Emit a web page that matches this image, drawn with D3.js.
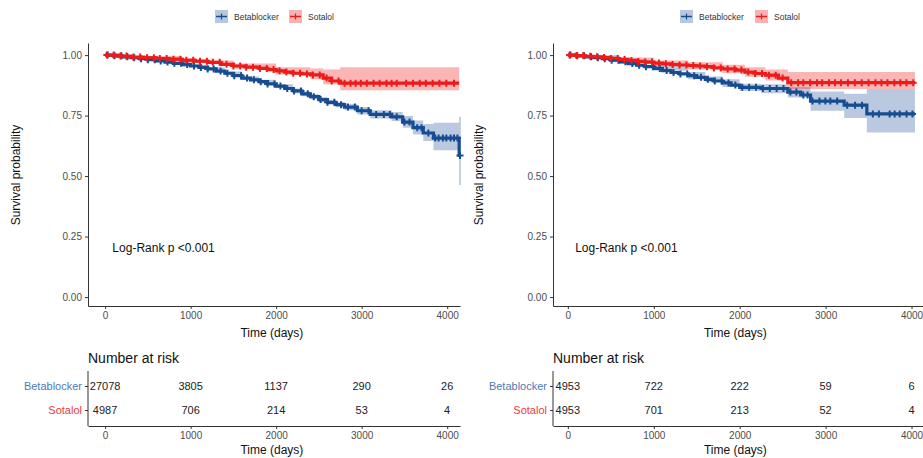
<!DOCTYPE html>
<html>
<head>
<meta charset="utf-8">
<script src="https://cdn.jsdelivr.net/npm/d3@7"></script>
<style>
  body { margin: 0; background: #fff; }
  text { font-family: Arial, "Liberation Sans", sans-serif; }
</style>
</head>
<body>
<svg id="chart" width="923" height="458"></svg>
<script>
const groups = ["Betablocker", "Sotalol"];
const xTicks = [0, 1000, 2000, 3000, 4000];
const yTicks = [0, 0.25, 0.5, 0.75, 1];
const pText = "Log-Rank p <0.001";

// left panel: [time, survival]
const leftBetaSurv = [[0,1],[100,0.997],[200,0.993],[300,0.989],[400,0.985],[500,0.981],[600,0.976],[700,0.971],[800,0.966],[900,0.961],[1000,0.955],[1100,0.949],[1200,0.943],[1300,0.934],[1400,0.925],[1500,0.915],[1600,0.905],[1700,0.898],[1800,0.89],[1900,0.881],[2000,0.872],[2100,0.862],[2200,0.852],[2300,0.84],[2400,0.828],[2500,0.816],[2600,0.805],[2700,0.795],[2800,0.785],[2950,0.77],[3100,0.755],[3350,0.745],[3480,0.723],[3600,0.7],[3720,0.678],[3840,0.657],[4140,0.585],[4160,0.585]];
const leftSotaSurv = [[0,1],[150,0.996],[300,0.992],[450,0.989],[600,0.986],[750,0.983],[900,0.979],[1050,0.975],[1200,0.97],[1350,0.962],[1500,0.955],[1650,0.95],[1800,0.945],[1900,0.94],[2000,0.935],[2100,0.93],[2200,0.925],[2300,0.922],[2400,0.918],[2550,0.905],[2650,0.893],[2750,0.884],[4140,0.884]];
// [time, lower, upper]
const leftBetaCI = [[0,1,1],[200,0.99,0.996],[600,0.972,0.98],[1000,0.95,0.96],[1200,0.937,0.949],[1400,0.918,0.932],[1600,0.898,0.912],[1800,0.882,0.898],[2000,0.864,0.88],[2200,0.842,0.862],[2300,0.83,0.85],[2400,0.818,0.838],[2500,0.806,0.826],[2600,0.795,0.815],[2700,0.784,0.806],[2800,0.772,0.798],[2950,0.755,0.785],[3100,0.738,0.772],[3350,0.728,0.765],[3480,0.7,0.748],[3600,0.672,0.73],[3720,0.645,0.715],[3840,0.607,0.72],[4140,0.463,0.745],[4160,0.463,0.745]];
const leftSotaCI = [[0,1,1],[300,0.988,0.996],[900,0.966,0.978],[1500,0.945,0.965],[2000,0.92,0.95],[2400,0.9,0.945],[2550,0.88,0.94],[2750,0.855,0.95],[4140,0.855,0.95]];
const leftBetaCens = [30,110,190,260,340,420,500,580,650,730,810,890,960,1040,1120,1200,1270,1350,1430,1510,1590,1660,1740,1820,1900,1980,2050,2130,2210,2290,2370,2440,2520,2600,2680,2760,2840,2920,3000,3080,3170,3260,3330,3410,3500,3560,3650,3700,3780,3860,3900,3950,3990,4040,4080,4120,4150];
const leftSotaCens = [20,100,180,250,330,410,490,570,640,720,800,880,950,1030,1110,1190,1260,1340,1420,1500,1580,1650,1730,1810,1890,1970,2040,2120,2200,2280,2360,2430,2510,2590,2650,2730,2800,2870,2930,2990,3060,3140,3210,3290,3350,3410,3520,3600,3680,3750,3830,3910,3990,4080];
const leftRiskBeta = [27078, 3805, 1137, 290, 26];
const leftRiskSota = [4987, 706, 214, 53, 4];

// right panel
const rightBetaSurv = [[0,1],[100,0.997],[200,0.993],[300,0.989],[400,0.985],[500,0.979],[600,0.972],[700,0.965],[800,0.958],[900,0.952],[1000,0.945],[1100,0.936],[1200,0.928],[1300,0.922],[1400,0.915],[1500,0.908],[1600,0.9],[1700,0.893],[1800,0.885],[1900,0.876],[2000,0.867],[2250,0.862],[2560,0.847],[2710,0.835],[2825,0.81],[3216,0.793],[3480,0.757],[4040,0.757]];
const rightSotaSurv = [[0,1],[100,0.998],[200,0.995],[300,0.993],[400,0.99],[500,0.986],[600,0.982],[700,0.978],[800,0.974],[900,0.971],[1000,0.967],[1100,0.964],[1200,0.961],[1300,0.959],[1400,0.957],[1500,0.955],[1600,0.952],[1700,0.947],[1800,0.943],[1950,0.938],[2060,0.93],[2180,0.924],[2300,0.917],[2450,0.905],[2560,0.886],[4040,0.886]];
const rightBetaCI = [[0,1,1],[200,0.988,0.997],[600,0.965,0.98],[1000,0.935,0.955],[1400,0.9,0.93],[1600,0.888,0.912],[1800,0.868,0.9],[2000,0.852,0.882],[2250,0.842,0.88],[2560,0.825,0.868],[2825,0.77,0.85],[3216,0.74,0.84],[3480,0.68,0.86],[4040,0.68,0.86]];
const rightSotaCI = [[0,1,1],[200,0.99,0.999],[600,0.974,0.99],[1000,0.955,0.978],[1400,0.942,0.97],[1800,0.925,0.96],[2060,0.91,0.95],[2300,0.895,0.94],[2560,0.86,0.93],[4040,0.86,0.93]];
const rightBetaCens = [30,110,190,270,350,430,510,590,670,750,830,910,990,1070,1150,1230,1310,1390,1470,1550,1630,1710,1790,1870,1950,2030,2110,2190,2270,2350,2430,2510,2590,2660,2740,2790,2847,2928,2997,3055,3135,3251,3343,3424,3550,3620,3746,3804,3862,3942,4011];
const rightSotaCens = [20,100,180,260,340,420,500,580,660,740,820,900,980,1060,1140,1220,1300,1380,1460,1540,1620,1700,1780,1860,1940,2020,2100,2180,2260,2340,2420,2500,2600,2680,2740,2820,2900,2960,3040,3110,3180,3260,3340,3420,3500,3580,3650,3720,3800,3870,3940,4020];
const rightRiskBeta = [4953, 722, 222, 59, 6];
const rightRiskSota = [4953, 701, 213, 52, 4];

const lineCol = { Betablocker: "#164c91", Sotalol: "#ee1b1b" };
const bandCol = { Betablocker: "#4a72aa", Sotalol: "#f23c3c" };
const labelCol = { Betablocker: "#4f78b5", Sotalol: "#ea3b3f" };

const svg = d3.select("#chart");

function survAt(steps, t) {
  let v = steps[0][1];
  steps.forEach(s => { if (s[0] <= t) v = s[1]; });
  return v;
}

function styleAxis(g) {
  g.selectAll(".domain").attr("stroke", "#333").attr("stroke-width", 1);
  g.selectAll(".tick line").attr("stroke", "#333");
  g.selectAll(".tick text").attr("fill", "#4d4d4d").attr("font-size", 10)
    .attr("font-family", "Arial, 'Liberation Sans', sans-serif");
}

function drawPanel(p) {
  const g = svg.append("g");
  const x = d3.scaleLinear().domain(p.xDomain).range(p.xRange);
  const y = d3.scaleLinear().domain([-0.037, 1.05]).range([306, 43]);

  // legend
  const leg = g.append("g").attr("transform", `translate(${p.legendX},10)`);
  groups.forEach((name, i) => {
    const lg = leg.append("g").attr("transform", `translate(${i * p.legendStep},0)`);
    lg.append("rect").attr("width", 13).attr("height", 13)
      .attr("fill", bandCol[name]).attr("fill-opacity", 0.4);
    lg.append("line").attr("x1", 1).attr("x2", 12).attr("y1", 6.5).attr("y2", 6.5)
      .attr("stroke", lineCol[name]).attr("stroke-width", 1.5);
    lg.append("line").attr("x1", 6.5).attr("x2", 6.5).attr("y1", 3.5).attr("y2", 9.5)
      .attr("stroke", lineCol[name]).attr("stroke-width", 1.2);
    lg.append("text").attr("x", 19).attr("y", 9.5).attr("font-size", 8.5)
      .attr("fill", "#333").text(name);
  });

  // confidence bands
  const area = d3.area().curve(d3.curveStepAfter)
    .x(d => x(d[0])).y0(d => y(d[1])).y1(d => y(d[2]));
  const line = d3.line().curve(d3.curveStepAfter)
    .x(d => x(d[0])).y(d => y(d[1]));

  const series = [
    { name: "Betablocker", surv: p.betaSurv, ci: p.betaCI, cens: p.betaCens },
    { name: "Sotalol", surv: p.sotaSurv, ci: p.sotaCI, cens: p.sotaCens }
  ];
  series.forEach(s => {
    g.append("path").datum(s.ci).attr("d", area)
      .attr("fill", bandCol[s.name]).attr("fill-opacity", 0.38);
  });
  series.forEach(s => {
    g.append("path").datum(s.surv).attr("d", line)
      .attr("fill", "none").attr("stroke", lineCol[s.name]).attr("stroke-width", 3.2);
    const c = g.append("g");
    s.cens.forEach(t => {
      const cx = x(t), cy = y(survAt(s.surv, t));
      c.append("path").attr("d", `M${cx - 3.5},${cy}H${cx + 3.5}M${cx},${cy - 3.5}V${cy + 3.5}`)
        .attr("stroke", lineCol[s.name]).attr("stroke-width", 2);
    });
  });

  // axes
  g.append("g").attr("transform", `translate(${p.xRange[0]},0)`)
    .call(d3.axisLeft(y).tickValues(yTicks).tickFormat(d3.format(".2f")).tickSize(3).tickSizeOuter(0).tickPadding(3))
    .call(styleAxis);
  g.append("g").attr("transform", "translate(0,306)")
    .call(d3.axisBottom(x).tickValues(xTicks).tickFormat(d3.format("d")).tickSize(3).tickSizeOuter(0).tickPadding(3))
    .call(styleAxis);

  g.append("text").attr("transform", `translate(${p.yTitleX},175) rotate(-90)`)
    .attr("text-anchor", "middle").attr("font-size", 12).attr("fill", "#111")
    .text("Survival probability");
  g.append("text").attr("x", x(1950)).attr("y", 337)
    .attr("text-anchor", "middle").attr("font-size", 12).attr("fill", "#111")
    .text("Time (days)");
  g.append("text").attr("x", x(85)).attr("y", 252)
    .attr("font-size", 12).attr("fill", "#111").text(pText);

  // risk table
  const ry = d3.scalePoint().domain(groups).range([386, 410]);
  const t = svg.append("g");
  t.append("text").attr("x", p.xRange[0]).attr("y", 363)
    .attr("font-size", 14).attr("fill", "#111").text("Number at risk");
  const ya = t.append("g").attr("transform", `translate(${p.xRange[0]},0)`)
    .call(d3.axisLeft(ry).tickSize(3).tickSizeOuter(0).tickPadding(3))
    .call(styleAxis);
  ya.select(".domain").remove();
  ya.selectAll(".tick text").attr("font-size", 11).attr("fill", d => labelCol[d]);
  t.append("line").attr("x1", p.xRange[0]).attr("x2", p.xRange[0])
    .attr("y1", 371).attr("y2", 426).attr("stroke", "#333");
  t.append("g").attr("transform", "translate(0,426)")
    .call(d3.axisBottom(x).tickValues(xTicks).tickFormat(d3.format("d")).tickSize(3).tickSizeOuter(0).tickPadding(3))
    .call(styleAxis);
  [[groups[0], p.riskBeta], [groups[1], p.riskSota]].forEach(([name, vals]) => {
    t.selectAll(null).data(vals).enter().append("text")
      .attr("x", (d, i) => x(xTicks[i])).attr("y", ry(name))
      .attr("dy", "0.35em").attr("text-anchor", "middle")
      .attr("font-size", 11).attr("fill", "#222").text(d => d);
  });
  t.append("text").attr("x", x(1950)).attr("y", 454)
    .attr("text-anchor", "middle").attr("font-size", 12).attr("fill", "#111")
    .text("Time (days)");
}

drawPanel({
  xDomain: [-200, 4150], xRange: [88, 460], yTitleX: 20,
  legendX: 215, legendStep: 74,
  betaSurv: leftBetaSurv, sotaSurv: leftSotaSurv,
  betaCI: leftBetaCI, sotaCI: leftSotaCI,
  betaCens: leftBetaCens, sotaCens: leftSotaCens,
  riskBeta: leftRiskBeta, riskSota: leftRiskSota
});
drawPanel({
  xDomain: [-173, 4250], xRange: [553, 933], yTitleX: 483,
  legendX: 680, legendStep: 75,
  betaSurv: rightBetaSurv, sotaSurv: rightSotaSurv,
  betaCI: rightBetaCI, sotaCI: rightSotaCI,
  betaCens: rightBetaCens, sotaCens: rightSotaCens,
  riskBeta: rightRiskBeta, riskSota: rightRiskSota
});
</script>
</body>
</html>
